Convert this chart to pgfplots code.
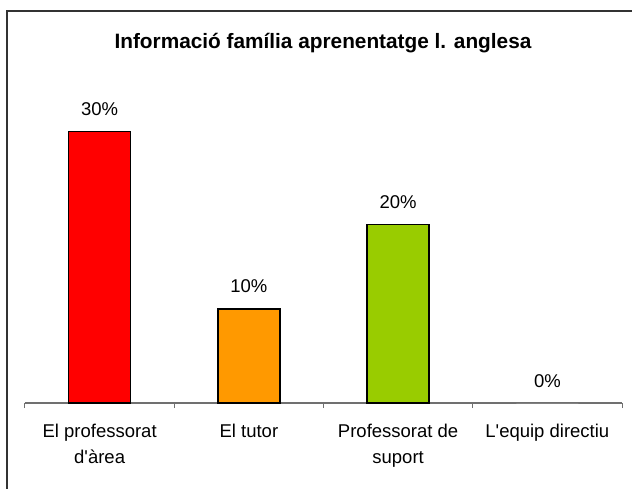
\documentclass[border=0pt]{standalone}
\usepackage{pgfplots}
\pgfplotsset{compat=1.18}
\usepackage{fontspec}
\setmainfont{Liberation Sans}
\definecolor{cred}{HTML}{FF0000}
\definecolor{corange}{HTML}{FF9900}
\definecolor{cgreen}{HTML}{99CC00}
\definecolor{axgray}{HTML}{707070}
\begin{document}
\begin{tikzpicture}[x=1pt,y=1pt]
\useasboundingbox (-25,-85) rectangle (607,403);
\draw[line width=1.3pt, color=black!80] (-18,-100) -- (-18,392) -- (640,392);
\node[font=\bfseries\fontsize{20.8}{24}\selectfont] at (298,360) {Informació família aprenentatge l. anglesa};
\begin{axis}[
  at={(0,0)}, anchor=south west,
  scale only axis, width=597pt, height=317pt,
  xmin=-0.5, xmax=3.5, ymin=0, ymax=35,
  axis y line=none, axis x line=bottom,
  x axis line style={-, color=axgray, line width=1.3pt},
  xtick={0,1,2,3},
  xticklabels={El professorat\\d\textquotesingle àrea, El tutor, Professorat de\\suport, L\textquotesingle equip directiu},
  major tick length=0pt,
  minor xtick={-0.5,0.5,1.5,2.5,3.5},
  minor tick length=5pt,
  tick align=outside,
  minor tick style={color=axgray, line width=1pt},
  xticklabel style={align=center, font=\fontsize{18.5}{26}\selectfont, yshift=-18pt},
  /pgf/number format/assume math mode=true,
  ybar, bar width=62pt, bar shift=0pt,
  every axis plot/.append style={draw=black, line width=1.4pt},
  nodes near coords={\pgfmathprintnumber[fixed, precision=0]{\pgfplotspointmeta}\%},
  nodes near coords style={anchor=base, yshift=16pt, font=\fontsize{18.5}{22}\selectfont, text=black},
  clip=false,
]
\addplot[fill=cred] coordinates {(0,30)};
\addplot[fill=corange] coordinates {(1,10.4)};
\addplot[fill=cgreen] coordinates {(2,19.7)};
\addplot[fill=white, draw=none] coordinates {(3,0)};
\end{axis}
\end{tikzpicture}
\end{document}
